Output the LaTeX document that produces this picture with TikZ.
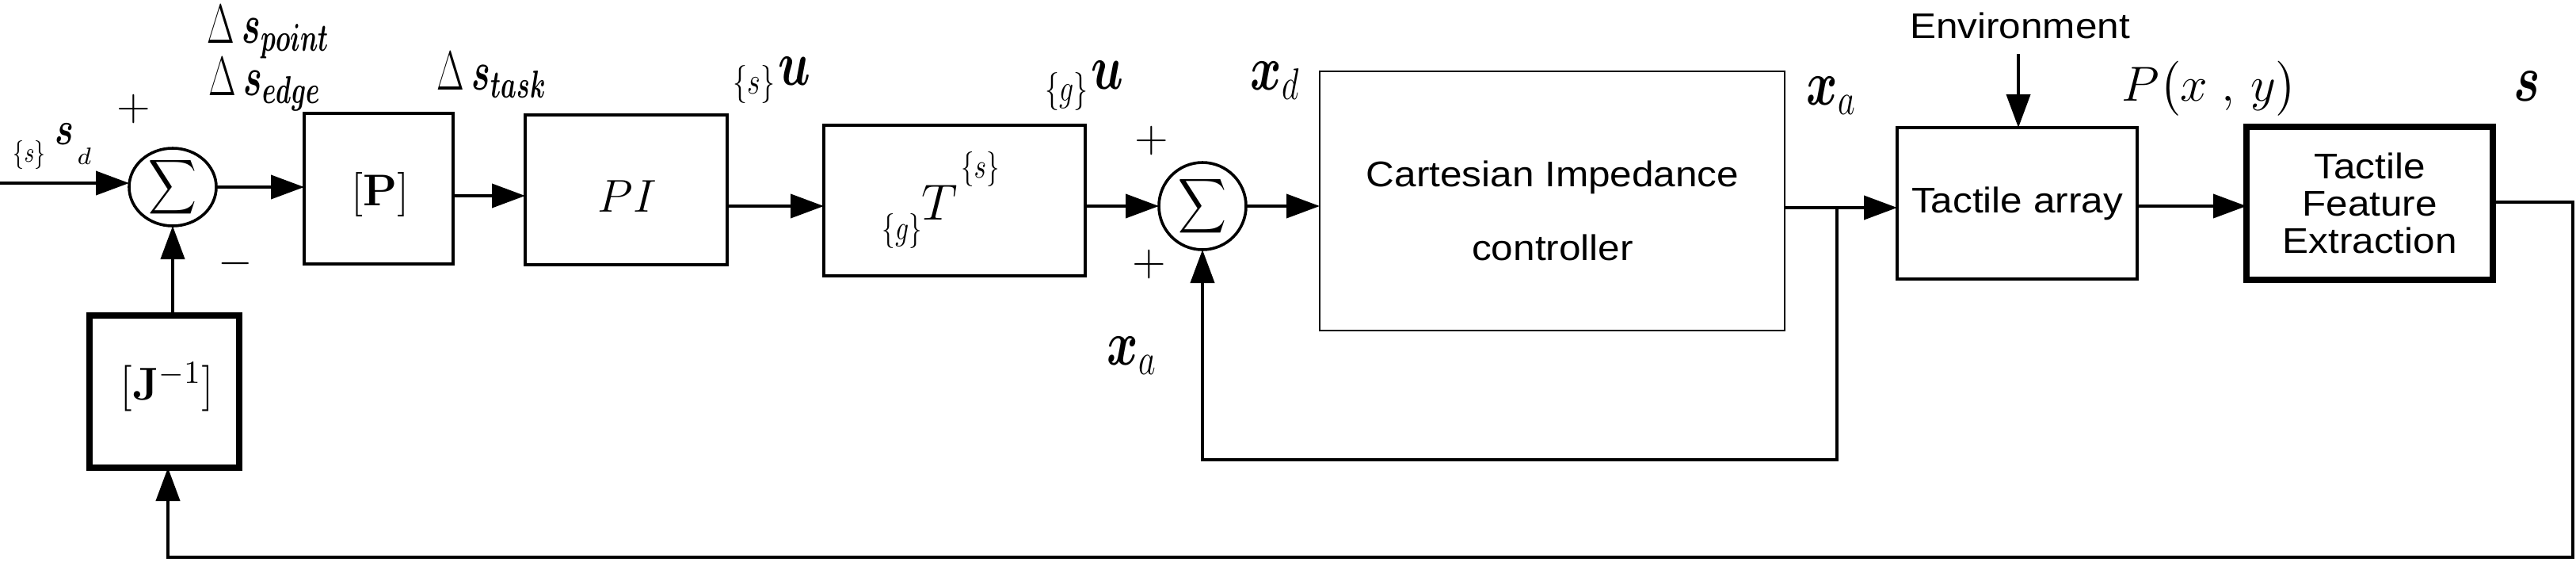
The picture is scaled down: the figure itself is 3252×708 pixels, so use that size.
\RequirePackage{fix-cm}
\documentclass[tikz,border=0pt]{standalone}
\usepackage[no-math]{fontspec}
\usepackage{amsmath}
\usepackage{bm}
\usepackage{graphicx}
\newfontfamily\sansf{Liberation Sans}[FakeStretch=1.1]
\usetikzlibrary{arrows.meta,shapes.geometric}
\newcommand{\cnd}[1]{\scalebox{0.75}[1]{#1}}
\newcommand{\cndd}[1]{\scalebox{0.64}[1]{#1}}
\newcommand{\fs}[1]{\fontsize{#1}{#1}\selectfont}
\newcommand{\sig}{\resizebox*{15.25pt}{19.25pt}{$\displaystyle\sum$}}
\tikzset{
  box/.style={draw, line width=1pt, inner sep=0pt, outer sep=0pt},
  thickbox/.style={box, line width=2pt},
  thinbox/.style={box, line width=0.5pt},
  sumnode/.style={draw, line width=0.9pt, inner sep=0pt, outer sep=0pt},
  arr/.style={line width=1pt, -{Triangle[length=10.5pt,width=7.5pt]}},
  stxt/.style={inner sep=0pt, font={\sansf\fontsize{11.25pt}{13pt}\selectfont}},
  txt/.style={inner sep=0pt},
  mlab/.style={inner sep=0pt, anchor=base west},
  sgn/.style={inner sep=0pt, font={\fs{14pt}}}
}
\begin{document}
\begin{tikzpicture}[x=0.25pt,y=-0.25pt]
\useasboundingbox (0,0) rectangle (3252,708);

% blocks
\node[sumnode, ellipse, minimum width=27.5pt, minimum height=24.5pt, label=center:{\sig}] (sum1) at (218,236) {};
\node[box, minimum width=47pt, minimum height=47.5pt] (P) at (478,238) {};
\node[box, minimum width=63.75pt, minimum height=47.25pt] (PI) at (790.5,239.5) {};
\node[box, minimum width=82.5pt, minimum height=47.5pt] (T) at (1205,253) {};
\node[sumnode, circle, minimum size=27.5pt, label=center:{\sig}] (sum2) at (1518,260) {};
\node[thinbox, minimum width=146.75pt, minimum height=81.75pt] (Cart) at (1959.5,253.5) {};
\node[box, stxt, minimum width=75.75pt, minimum height=47.75pt] (TA) at (2546.5,256.5) {Tactile array};
\node[thickbox, stxt, align=center, font={\sansf\fontsize{11.25pt}{11.75pt}\selectfont}, minimum width=77.75pt, minimum height=48.25pt] (TFE) at (2991.5,256.5) {Tactile\\Feature\\Extraction};
\node[thickbox, minimum width=47.25pt, minimum height=48pt] (J) at (207.5,494) {};

% texts inside blocks
\node[txt] (tP) at (480,245) {\fs{14pt}$[\mathbf{P}]$};
\node[txt] (tPI) at (792,248) {\fs{14.5pt}$PI$};
\node[txt] (tJ) at (211,488) {\fs{14.5pt}$[\mathbf{J}^{-1}]$};
\node[mlab] (tT) at (1113,302) {\cnd{\fs{11pt}$\{g\}$}\raisebox{6.25pt}{\fs{16pt}$T$}\hspace{1pt}\raisebox{19.5pt}{\cnd{\fs{11pt}$\{s\}$}}};
\node[stxt, anchor=base] (tc1) at (1960,235) {Cartesian Impedance};
\node[stxt, anchor=base] (tc2) at (1960,328) {controller};
\node[stxt] (env) at (2550,32) {Environment};

% signal labels
\node[mlab] (lsd) at (16,204) {\cnd{\fs{9pt}$\{s\}$}\hspace{3pt}\raisebox{5.5pt}{\cnd{\fs{15pt}$\bm{s}$}}\hspace{1pt}\raisebox{-0.75pt}{\fs{7.5pt}$d$}};
\node[mlab] (dpt) at (261,54) {\cndd{\fs{17.5pt}$\Delta$}};
\node[mlab] (lpt) at (305,54) {\cndd{\fs{17.5pt}$\bm{s}_{\bm{point}}$}};
\node[mlab] (ded) at (263,120) {\cndd{\fs{17.5pt}$\Delta$}};
\node[mlab] (led) at (307,120) {\cndd{\fs{17.5pt}$\bm{s}_{\bm{edge}}$}};
\node[mlab] (dtk) at (551,113) {\cndd{\fs{17.5pt}$\Delta$}};
\node[mlab] (ltk) at (595,113) {\cndd{\fs{17.5pt}$\bm{s}_{\bm{task}}$}};
\node[mlab] (lsu) at (925,118) {\cnd{\fs{12pt}$\{s\}$}\hspace{1pt}\raisebox{2.75pt}{\cnd{\fs{20pt}$\bm{u}$}}};
\node[mlab] (lgu) at (1319,127) {\cnd{\fs{12pt}$\{g\}$}\hspace{1pt}\raisebox{3.75pt}{\cnd{\fs{20pt}$\bm{u}$}}};
\node[mlab] (lxd) at (1578,113) {\cnd{\fs{20pt}$\bm{x}_{d}$}};
\node[mlab] (lxa1) at (2280,132) {\cnd{\fs{20pt}$\bm{x}_{a}$}};
\node[mlab] (lxa2) at (1397,460) {\cnd{\fs{20pt}$\bm{x}_{a}$}};
\node[mlab] (lpxy) at (2678,127) {\fs{15.5pt}$P\bigl(x\;,\,y\bigr)$};
\node[mlab] (ls) at (3173,127) {\cnd{\fs{21pt}$\bm{s}$}};

% signs
\node[sgn] (p1) at (169,137) {$+$};
\node[sgn] (m1) at (297,332) {$-$};
\node[sgn] (p2) at (1454,177) {$+$};
\node[sgn] (p3) at (1451,333) {$+$};

% helper coordinates
\coordinate (in) at (0,231);
\coordinate (y247) at (0,247);
\coordinate (y260) at (0,260);
\coordinate (j) at (2319,262);
\coordinate (jb) at (2319,580);
\coordinate (envtop) at (2548,68);
\coordinate (fr) at (3248,255);
\coordinate (fb) at (212,703);

% connectors
\draw[arr] (in) -- (in -| sum1.west);
\draw[arr] (sum1.east) -- (P.west |- sum1.east);
\draw[arr] (P.east |- y247) -- (PI.west |- y247);
\draw[arr] (PI.east |- y260) -- (T.west |- y260);
\draw[arr] (T.east |- sum2.west) -- (sum2.west);
\draw[arr] (sum2.east) -- (Cart.west |- sum2.east);
\draw[arr] (Cart.east |- j) -- (TA.west |- j);
\draw[arr] (j) -- (jb) -| (sum2.south);
\draw[arr] (envtop) -- (envtop |- TA.north);
\draw[arr] (TA.east |- y260) -- (TFE.west |- y260);
\draw[arr] (TFE.east |- fr) -- (fr) |- (fb) -- (fb |- J.south);
\draw[arr] (sum1.south |- J.north) -- (sum1.south);
\end{tikzpicture}
\end{document}
